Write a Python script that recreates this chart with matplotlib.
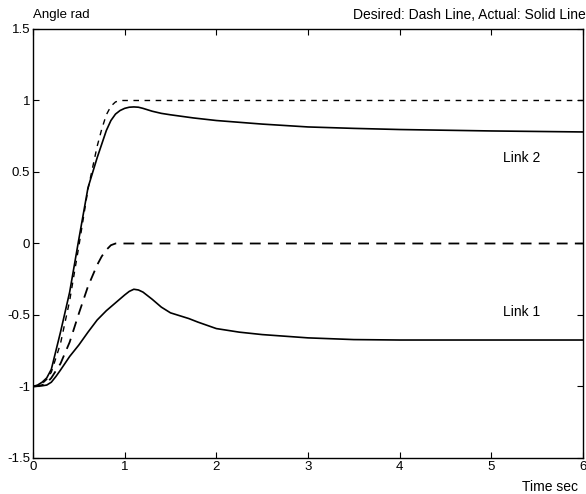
import numpy as np
import matplotlib
matplotlib.use("Agg")
import matplotlib.pyplot as plt

plt.rcParams['font.family'] = ['Liberation Sans', 'DejaVu Sans']

# desired trajectories (dashed)
t_des1 = [0, 0.05, 0.1, 0.15, 0.2, 0.3, 0.4, 0.5, 0.6, 0.7, 0.75, 0.8,
          0.85, 0.9, 6]
link1_des = [-1, -0.997, -0.99, -0.975, -0.94, -0.84, -0.69, -0.49, -0.30,
             -0.15, -0.09, -0.045, -0.012, 0, 0]

t_des2 = [0, 0.05, 0.1, 0.15, 0.2, 0.3, 0.4, 0.5, 0.6, 0.7, 0.75, 0.8,
          0.85, 0.9, 0.95, 6]
link2_des = [-1, -0.995, -0.98, -0.95, -0.9, -0.7, -0.4, -0.02, 0.38, 0.68,
             0.8, 0.9, 0.96, 0.99, 1.0, 1.0]

# actual responses (solid)
t_act1 = [0, 0.05, 0.1, 0.15, 0.2, 0.25, 0.3, 0.4, 0.5, 0.6, 0.7, 0.8, 0.9,
          1.0, 1.05, 1.1, 1.15, 1.2, 1.3, 1.4, 1.5, 1.6, 1.7, 1.8, 2.0, 2.25,
          2.5, 3.0, 3.5, 4.0, 6.0]
link1_act = [-1, -0.998, -0.995, -0.99, -0.97, -0.93, -0.885, -0.79, -0.71,
             -0.62, -0.535, -0.47, -0.415, -0.36, -0.335, -0.32, -0.325,
             -0.34, -0.39, -0.445, -0.485, -0.505, -0.525, -0.55, -0.595,
             -0.62, -0.637, -0.66, -0.672, -0.675, -0.675]

t_act2 = [0, 0.05, 0.1, 0.15, 0.2, 0.3, 0.4, 0.5, 0.6, 0.7, 0.8, 0.85, 0.9,
          0.95, 1.0, 1.05, 1.1, 1.15, 1.2, 1.3, 1.4, 1.5, 1.75, 2.0, 2.5,
          3.0, 3.5, 4.0, 5.0, 6.0]
link2_act = [-1, -0.99, -0.97, -0.94, -0.88, -0.62, -0.34, 0.03, 0.39, 0.6,
             0.79, 0.86, 0.905, 0.93, 0.945, 0.953, 0.955, 0.953, 0.945,
             0.925, 0.91, 0.9, 0.878, 0.86, 0.835, 0.815, 0.805, 0.797,
             0.787, 0.78]

xticks = [0, 1, 2, 3, 4, 5, 6]
yticks = [-1.5, -1, -0.5, 0, 0.5, 1, 1.5]
ytick_labels = ['-1.5', '-1', '-0.5', '0', '0.5', '1', '1.5']


def main():
    fig = plt.figure(figsize=(5.86, 4.94), dpi=100)
    ax = fig.add_axes([0.0563, 0.0729, 0.9386, 0.8684])

    ax.plot(t_des2, link2_des, color='black', lw=1.0, dashes=(4, 4))
    ax.plot(t_des1, link1_des, color='black', lw=1.3, dashes=(6, 4))
    ax.plot(t_act2, link2_act, color='black', lw=1.2)
    ax.plot(t_act1, link1_act, color='black', lw=1.2)

    ax.text(5.13, 0.6, 'Link 2', fontsize=10, va='center')
    ax.text(5.13, -0.48, 'Link 1', fontsize=10, va='center')

    ax.set_xlim(0, 6)
    ax.set_ylim(-1.5, 1.5)
    ax.set_xticks(xticks)
    ax.set_yticks(yticks)
    ax.set_yticklabels(ytick_labels)
    ax.tick_params(direction='in', top=True, right=True, length=4,
                   labelsize=9.5, pad=2, width=0.8)
    for s in ax.spines.values():
        s.set_linewidth(1.0)

    fig.text(33 / 586, 1 - 15 / 494, 'Angle rad', fontsize=9.5, va='center')
    fig.text(1.0, 1 - 15 / 494, 'Desired: Dash Line, Actual: Solid Line',
             fontsize=10, va='center', ha='right')
    fig.text(578 / 586, 1 - 487 / 494, 'Time sec', fontsize=10,
             va='center', ha='right')

    fig.savefig('out.png', dpi=100)


if __name__ == "__main__":
    main()
